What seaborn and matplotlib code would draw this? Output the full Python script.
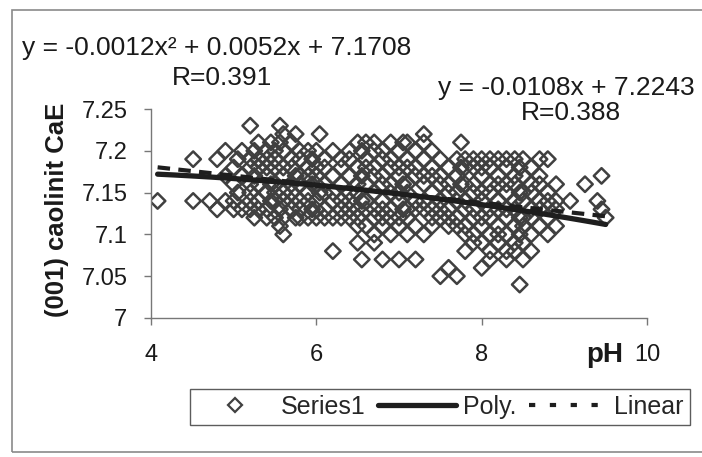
import matplotlib
matplotlib.use("Agg")
import matplotlib.pyplot as plt
import seaborn as sns
import pandas as pd
import numpy as np
from matplotlib.lines import Line2D
from matplotlib.patches import Rectangle

# ---- data ----
ph_columns = [4.08, 4.51, 4.71, 4.80, 4.90, 5.00, 5.05, 5.10, 5.20, 5.25, 5.30, 5.40,
              5.45, 5.50, 5.56, 5.60, 5.70, 5.75, 5.80, 5.90, 5.95, 6.00, 6.04, 6.10,
              6.20, 6.30, 6.40, 6.50, 6.55, 6.60, 6.70, 6.80, 6.90, 7.00, 7.05, 7.10,
              7.20, 7.30, 7.40, 7.50, 7.60, 7.70, 7.75, 7.80, 7.90, 8.00, 8.10, 8.20,
              8.30, 8.40, 8.46, 8.50, 8.60, 8.70, 8.80, 8.90, 9.07, 9.25, 9.40, 9.45, 9.50]
cae_by_ph = [
    [7.14],
    [7.19, 7.14],
    [7.14],
    [7.19, 7.13],
    [7.20, 7.17, 7.14],
    [7.18, 7.16, 7.14, 7.13],
    [7.19, 7.15],
    [7.20, 7.17, 7.13],
    [7.23, 7.19, 7.18, 7.16, 7.15, 7.14, 7.13],
    [7.20, 7.17, 7.12],
    [7.21, 7.19, 7.18, 7.16, 7.14, 7.13],
    [7.20, 7.19, 7.18, 7.17, 7.15, 7.13, 7.12],
    [7.21, 7.16, 7.14],
    [7.20, 7.19, 7.18, 7.16, 7.15, 7.14, 7.12],
    [7.23, 7.21, 7.13, 7.11],
    [7.22, 7.20, 7.18, 7.17, 7.15, 7.14, 7.12, 7.10],
    [7.21, 7.19, 7.18, 7.16, 7.15, 7.14, 7.13],
    [7.22, 7.17, 7.12],
    [7.20, 7.19, 7.17, 7.16, 7.14, 7.13, 7.12],
    [7.20, 7.18, 7.17, 7.15, 7.14, 7.12],
    [7.19, 7.16, 7.13],
    [7.20, 7.18, 7.17, 7.16, 7.14, 7.13, 7.12],
    [7.22, 7.15],
    [7.19, 7.18, 7.16, 7.15, 7.13, 7.12],
    [7.20, 7.17, 7.15, 7.14, 7.12, 7.08],
    [7.19, 7.18, 7.16, 7.14, 7.13, 7.12],
    [7.20, 7.19, 7.17, 7.15, 7.14, 7.13, 7.12],
    [7.21, 7.18, 7.16, 7.15, 7.13, 7.12, 7.11, 7.09],
    [7.20, 7.17, 7.14, 7.07],
    [7.21, 7.19, 7.18, 7.16, 7.14, 7.13, 7.11],
    [7.21, 7.20, 7.18, 7.17, 7.15, 7.13, 7.12, 7.10, 7.09],
    [7.20, 7.19, 7.17, 7.16, 7.14, 7.13, 7.12, 7.11, 7.07],
    [7.21, 7.19, 7.18, 7.16, 7.15, 7.13, 7.12, 7.10],
    [7.20, 7.18, 7.17, 7.15, 7.14, 7.12, 7.11, 7.07],
    [7.21, 7.16, 7.13],
    [7.21, 7.19, 7.18, 7.16, 7.15, 7.13, 7.12, 7.10],
    [7.20, 7.18, 7.17, 7.14, 7.13, 7.11, 7.07],
    [7.22, 7.21, 7.19, 7.17, 7.16, 7.14, 7.13, 7.10],
    [7.20, 7.18, 7.17, 7.15, 7.13, 7.12, 7.11],
    [7.19, 7.17, 7.16, 7.14, 7.13, 7.12, 7.05],
    [7.18, 7.16, 7.15, 7.13, 7.12, 7.11, 7.06],
    [7.19, 7.17, 7.15, 7.14, 7.12, 7.11, 7.05],
    [7.21, 7.18, 7.16],
    [7.19, 7.18, 7.16, 7.14, 7.13, 7.11, 7.10, 7.08],
    [7.19, 7.18, 7.16, 7.15, 7.13, 7.12, 7.10, 7.09],
    [7.19, 7.18, 7.17, 7.15, 7.14, 7.12, 7.11, 7.09, 7.06],
    [7.19, 7.18, 7.16, 7.15, 7.13, 7.12, 7.10, 7.08, 7.07],
    [7.19, 7.17, 7.16, 7.14, 7.13, 7.11, 7.10, 7.09],
    [7.19, 7.18, 7.16, 7.15, 7.13, 7.12, 7.10, 7.08, 7.07],
    [7.19, 7.17, 7.16, 7.14, 7.13, 7.11, 7.09, 7.08],
    [7.18, 7.15, 7.12, 7.10, 7.04],
    [7.19, 7.17, 7.15, 7.14, 7.12, 7.11, 7.09, 7.07],
    [7.18, 7.16, 7.15, 7.13, 7.12, 7.10, 7.08],
    [7.19, 7.17, 7.16, 7.14, 7.13, 7.11],
    [7.19, 7.15, 7.14, 7.12, 7.10],
    [7.16, 7.14, 7.13, 7.11],
    [7.14],
    [7.16],
    [7.14],
    [7.17, 7.13],
    [7.12],
]
# trendline coefficients shown on the chart (highest power first)
poly_coef = [-0.0012, 0.0052, 7.1708]
linear_coef = [-0.0108, 7.2243]
x_ticks = [4, 6, 8, 10]
y_ticks = [7.0, 7.05, 7.1, 7.15, 7.2, 7.25]
y_tick_labels = ["7", "7.05", "7.1", "7.15", "7.2", "7.25"]

# ---- build tables ----
rows = [(p, c) for p, col in zip(ph_columns, cae_by_ph) for c in col]
df = pd.DataFrame(rows, columns=["pH", "CaE"])
xfit = np.linspace(min(ph_columns), max(ph_columns), 100)
fit_df = pd.DataFrame({
    "pH": np.concatenate([xfit, xfit]),
    "CaE": np.concatenate([np.polyval(poly_coef, xfit), np.polyval(linear_coef, xfit)]),
    "fit": ["Poly."] * len(xfit) + ["Linear"] * len(xfit),
})

sns.set_theme(style="white")
plt.rcParams["font.family"] = ["Liberation Sans", "DejaVu Sans"]

W, H = 702, 457
fig = plt.figure(figsize=(W / 100, H / 100), dpi=100)
ax = fig.add_axes([151 / W, 1 - 318 / H, 496 / W, 209 / H])

mark_col = "#404040"
line_col = "#1e1e1e"
sns.scatterplot(data=df, x="pH", y="CaE", ax=ax, marker="D", s=62,
                facecolor="none", edgecolor=mark_col, linewidth=1.8, legend=False, zorder=2)
sns.lineplot(data=fit_df[fit_df.fit == "Linear"], x="pH", y="CaE", ax=ax,
             color=line_col, linewidth=3.0, linestyle=(0, (3, 2)), legend=False, zorder=3)
sns.lineplot(data=fit_df[fit_df.fit == "Poly."], x="pH", y="CaE", ax=ax,
             color=line_col, linewidth=3.8, legend=False, zorder=4)

ax.set_xlim(4, 10)
ax.set_ylim(7.0, 7.25)
ax.set_xticks(x_ticks)
ax.set_xticklabels([str(t) for t in x_ticks])
ax.set_yticks(y_ticks)
ax.set_yticklabels(y_tick_labels)
ax.set_xlabel("")
ax.set_ylabel("")
for s in ["top", "right"]:
    ax.spines[s].set_visible(False)
for s in ["left", "bottom"]:
    ax.spines[s].set_color("#777777")
    ax.spines[s].set_linewidth(1.0)
ax.tick_params(axis="x", direction="out", length=5, width=1, color="#777777",
               pad=14, labelsize=17, labelcolor="#1a1a1a", bottom=True)
ax.tick_params(axis="y", direction="out", length=5, width=1, color="#777777",
               pad=12, labelsize=17, labelcolor="#1a1a1a", left=True)
ax.patch.set_alpha(0)

tc = "#1a1a1a"
fig.text(22 / W, 1 - 48 / H, "y = -0.0012x² + 0.0052x + 7.1708", fontsize=19,
         ha="left", va="center", color=tc)
fig.text(222 / W, 1 - 78 / H, "R=0.391", fontsize=19, ha="center", va="center", color=tc)
fig.text(695 / W, 1 - 88 / H, "y = -0.0108x + 7.2243", fontsize=19,
         ha="right", va="center", color=tc)
fig.text(571 / W, 1 - 113 / H, "R=0.388", fontsize=19, ha="center", va="center", color=tc)
fig.text(57 / W, 1 - 210 / H, "(001) caolinit CaE", fontsize=18.5, fontweight="bold",
         rotation=90, ha="center", va="center", color=tc)
fig.text(605 / W, 1 - 355 / H, "pH", fontsize=20, fontweight="bold",
         ha="center", va="center", color=tc)

# outer chart border
fig.patches.append(Rectangle((12 / W, 1 - 452 / H), 1.2, (452 - 10) / H,
                             transform=fig.transFigure, fill=False,
                             edgecolor="#8a8a8a", linewidth=1.2))

handles = [
    Line2D([], [], marker="D", linestyle="none", markerfacecolor="none",
           markeredgecolor=mark_col, markeredgewidth=1.6, markersize=7),
    Line2D([], [], color=line_col, linewidth=3.8),
    Line2D([], [], color=line_col, linewidth=3.0, linestyle=(0, (1.5, 3.5))),
]
leg = fig.legend(handles, ["Series1", "Poly.", "Linear"], loc="center",
                 bbox_to_anchor=(440 / W, 1 - 407 / H), ncol=3, fontsize=18,
                 frameon=True, fancybox=False, edgecolor="#333333",
                 handlelength=3.1, handletextpad=0.3, columnspacing=0.5,
                 borderpad=0.25, borderaxespad=0)
leg.get_frame().set_linewidth(1.0)

fig.savefig("out.png", dpi=100)
